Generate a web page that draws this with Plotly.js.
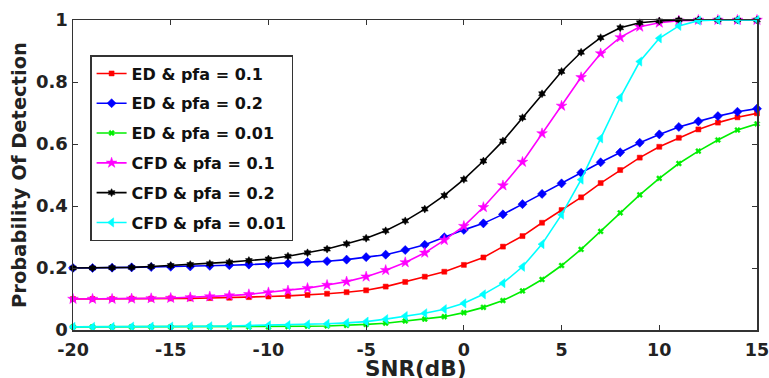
<!DOCTYPE html>
<html>
<head>
<meta charset="utf-8">
<script src="https://cdn.plot.ly/plotly-3.0.1.min.js"></script>
<style>html,body{margin:0;padding:0;background:#fff;overflow:hidden;}#chart{width:769px;height:378px;}</style>
</head>
<body>
<div id="chart"></div>
<script>
const snr = [-20,-19,-18,-17,-16,-15,-14,-13,-12,-11,-10,-9,-8,-7,-6,-5,-4,-3,-2,-1,0,1,2,3,4,5,6,7,8,9,10,11,12,13,14,15];

const edPfa01 = [0.100,0.100,0.100,0.101,0.101,0.102,0.102,0.103,0.104,0.106,0.108,0.110,0.113,0.117,0.122,0.128,0.140,0.155,0.172,0.188,0.210,0.234,0.269,0.303,0.346,0.387,0.428,0.474,0.516,0.556,0.591,0.620,0.647,0.669,0.686,0.699];
const edPfa02 = [0.200,0.200,0.201,0.202,0.203,0.204,0.205,0.207,0.209,0.211,0.213,0.215,0.219,0.222,0.227,0.235,0.243,0.258,0.275,0.299,0.323,0.344,0.373,0.406,0.439,0.473,0.507,0.541,0.573,0.604,0.631,0.655,0.673,0.690,0.704,0.714];
const edPfa001 = [0.010,0.010,0.010,0.010,0.010,0.010,0.010,0.010,0.010,0.010,0.010,0.011,0.012,0.013,0.015,0.018,0.022,0.029,0.035,0.043,0.056,0.073,0.095,0.126,0.163,0.208,0.260,0.318,0.378,0.436,0.489,0.537,0.577,0.613,0.645,0.665];
const cfdPfa01 = [0.100,0.100,0.100,0.101,0.102,0.103,0.105,0.108,0.111,0.115,0.121,0.127,0.135,0.145,0.156,0.172,0.193,0.218,0.249,0.290,0.335,0.396,0.466,0.542,0.634,0.723,0.815,0.892,0.944,0.978,0.991,0.998,1,1,1,1];
const cfdPfa02 = [0.200,0.200,0.201,0.202,0.205,0.208,0.211,0.214,0.219,0.224,0.229,0.238,0.249,0.261,0.278,0.296,0.320,0.352,0.390,0.434,0.486,0.545,0.610,0.685,0.762,0.834,0.896,0.943,0.975,0.991,0.997,1,1,1,1,1];
const cfdPfa001 = [0.010,0.010,0.010,0.011,0.011,0.011,0.012,0.012,0.013,0.014,0.015,0.016,0.018,0.020,0.023,0.027,0.035,0.045,0.054,0.067,0.086,0.115,0.151,0.204,0.277,0.372,0.485,0.618,0.750,0.866,0.941,0.981,0.998,1,1,1];

const names = ['ED &amp; pfa = 0.1','ED &amp; pfa = 0.2','ED &amp; pfa = 0.01','CFD &amp; pfa = 0.1','CFD &amp; pfa = 0.2','CFD &amp; pfa = 0.01'];
const xTitle = 'SNR(dB)';
const yTitle = 'Probability Of Detection';
const xTicks = [-20,-15,-10,-5,0,5,10,15];
const yTicks = [0,0.2,0.4,0.6,0.8,1];

const series = [edPfa01, edPfa02, edPfa001, cfdPfa01, cfdPfa02, cfdPfa001];
const colors = ['#ff0000','#0000ff','#00ee00','#ff00ff','#000000','#00ffff'];
const symbols = ['square','diamond','x','star','hexagram','triangle-left'];
const sizes = [5,7,5,8,6,8];

const traces = series.map((ys,i)=>({
  x: snr, y: ys, name: names[i], legendgroup:'g'+i, type:'scatter', mode:'lines+markers',
  cliponaxis:false,
  line:{color:colors[i], width:1.6},
  marker:{symbol:symbols[i], size:sizes[i], color:colors[i], line:{color:colors[i], width:0.5}}
}));

const fontFam = 'DejaVu Sans, sans-serif';
const layout = {
  width:769, height:378,
  margin:{l:73, r:12, t:20, b:48},
  paper_bgcolor:'#fff', plot_bgcolor:'#fff',
  showlegend:true,
  legend:{x:0.025, y:0.887, xanchor:'left', yanchor:'top',
    bgcolor:'#fff', bordercolor:'#333', borderwidth:1.5,
    font:{family:fontFam, size:16, color:'#111', weight:'bold'},
    tracegroupgap:6, itemwidth:30},
  xaxis:{range:[-20,15], tickvals:xTicks, ticktext:xTicks.map(String),
    ticks:'inside', ticklen:5, tickcolor:'#333', showgrid:false, zeroline:false,
    showline:true, linecolor:'#333', linewidth:1.5, mirror:'ticks',
    ticklabeloverflow:'allow', ticklabelstandoff:3, automargin:false,
    tickfont:{family:fontFam, size:17.5, color:'#222', weight:'bold'}},
  yaxis:{range:[0,1], tickvals:yTicks, ticktext:yTicks.map(String),
    ticks:'inside', ticklen:5, tickcolor:'#333', showgrid:false, zeroline:false,
    showline:true, linecolor:'#333', linewidth:1.5, mirror:'ticks',
    automargin:false,
    tickfont:{family:fontFam, size:18, color:'#222', weight:'bold'},
    title:{text:yTitle, font:{family:fontFam, size:19.5, color:'#222', weight:'bold'}, standoff:4}},
  annotations:[{text:xTitle, xref:'paper', yref:'paper', x:0.5, y:-0.082, xanchor:'center', yanchor:'top',
    showarrow:false, borderpad:0, font:{family:fontFam, size:21.5, color:'#222', weight:'bold'}}]
};

Plotly.newPlot('chart', traces, layout, {displayModeBar:false, staticPlot:true});
</script>
</body>
</html>
